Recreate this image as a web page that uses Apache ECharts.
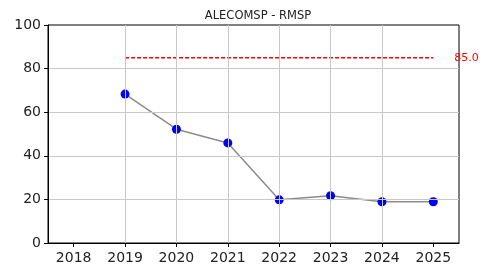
<!DOCTYPE html>
<html>
<head>
<meta charset="utf-8">
<script src="https://cdn.jsdelivr.net/npm/echarts@6/dist/echarts.min.js"></script>
<style>
  html, body { margin: 0; padding: 0; background: #fff; }
  #chart { width: 482px; height: 269px; }
</style>
</head>
<body>
<div id="chart"></div>
<script>
const years = [2019, 2020, 2021, 2022, 2023, 2024, 2025];
const values = [68.3, 52.2, 45.9, 19.8, 21.7, 18.9, 18.9];
const xTicks = [2018, 2019, 2020, 2021, 2022, 2023, 2024, 2025];
const target = 85.0;

const chart = echarts.init(document.getElementById('chart'));

const tickStyle = { color: '#222', fontSize: 14, fontFamily: 'DejaVu Sans' };

chart.setOption({
  animation: false,
  title: {
    text: 'ALECOMSP - RMSP',
    left: 253, top: 5, textAlign: 'center',
    textStyle: { fontSize: 11.5, fontWeight: 'normal', color: '#222', fontFamily: 'DejaVu Sans' }
  },
  grid: {
    left: 48, right: 23, top: 25, bottom: 26,
    show: true, borderColor: '#000', borderWidth: 1
  },
  xAxis: {
    type: 'value', min: 2017.5, max: 2025.5, z: 5,
    axisLine: { lineStyle: { color: '#000' } },
    axisTick: { show: true, length: 4, lineStyle: { color: '#000' }, customValues: xTicks },
    axisLabel: { ...tickStyle, margin: 8, customValues: xTicks, formatter: v => String(v) },
    splitLine: { show: true, showMinLine: false, showMaxLine: false, lineStyle: { color: '#c8c8c8', width: 1 } }
  },
  yAxis: {
    type: 'value', min: 0, max: 100, interval: 20, z: 5,
    axisLine: { show: true, lineStyle: { color: '#000' } },
    axisTick: { show: true, length: 4, lineStyle: { color: '#000' } },
    axisLabel: { ...tickStyle, margin: 7 },
    splitLine: { show: true, showMinLine: false, showMaxLine: false, lineStyle: { color: '#c8c8c8', width: 1 } }
  },
  series: [{
    type: 'line',
    data: years.map((y, i) => [y, values[i]]),
    symbol: 'circle', symbolSize: 9,
    itemStyle: { color: '#0000ff' },
    lineStyle: { color: '#8c8c8c', width: 1.5 },
    z: 2
  }, {
    type: 'line',
    data: [[years[0], target], [years[years.length - 1], target]],
    symbol: 'none',
    silent: true,
    lineStyle: { color: '#ff0000', type: [4, 2], width: 1.4 },
    endLabel: { show: true, distance: 21, formatter: target.toFixed(1), color: '#ff0000', fontSize: 11, fontFamily: 'DejaVu Sans' },
    z: 3
  }]
});
</script>
</body>
</html>
